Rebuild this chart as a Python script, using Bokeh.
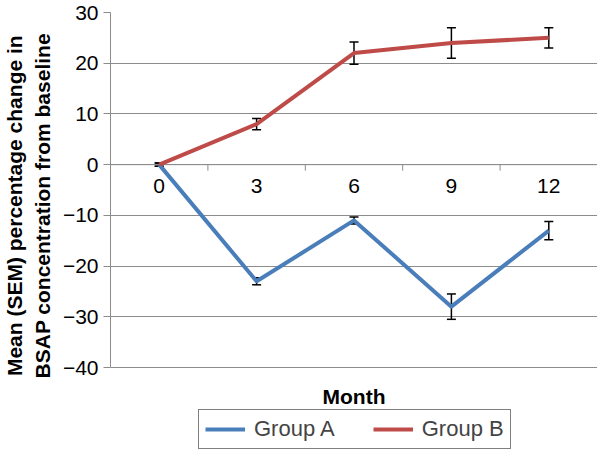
from bokeh.plotting import figure
from bokeh.models import (FixedTicker, Whisker, TeeHead, ColumnDataSource, Legend,
                          LegendItem, Label, Range1d)
from bokeh.core.properties import value
from bokeh.embed import file_html
from bokeh.resources import INLINE

months = ["0", "3", "6", "9", "12"]
group_a = [0, -23, -11, -28, -13]
group_a_sem = [0.3, 0.7, 0.7, 2.5, 1.8]
group_b = [0, 8, 22, 24, 25]
group_b_sem = [0.3, 1.1, 2.2, 3.0, 2.0]
y_ticks = [-40, -30, -20, -10, 0, 10, 20, 30]

FONT = "Liberation Sans"
BLUE = "#4A7EBB"
RED = "#BE4B48"
GRAY = "#8C8C8C"

# layout (pixels)
W, H = 597, 451
TOP = 12           # frame top
FRAME_H = H - TOP  # frame reaches the bottom; legend and "Month" live below the axis area
PLOT_H = 355       # pixel height of the y span y_ticks[0]..y_ticks[-1]
span = y_ticks[-1] - y_ticks[0]
y_min = y_ticks[0] - (FRAME_H - PLOT_H) * span / PLOT_H
TICK_LEN = 6 * span / PLOT_H   # 6 px category tick marks, in y units
PAD = "\u00a0" * 9             # lifts the rotated y label to the centre of the y span

pos = [i + 0.5 for i in range(len(months))]
bounds = [i + 1 for i in range(len(months))]

src_a = ColumnDataSource(dict(x=pos, y=group_a,
                              lo=[v - e for v, e in zip(group_a, group_a_sem)],
                              hi=[v + e for v, e in zip(group_a, group_a_sem)]))
src_b = ColumnDataSource(dict(x=pos, y=group_b,
                              lo=[v - e for v, e in zip(group_b, group_b_sem)],
                              hi=[v + e for v, e in zip(group_b, group_b_sem)]))

p = figure(width=W, height=H, output_backend="svg", toolbar_location=None,
           x_range=Range1d(0, len(months)), y_range=Range1d(y_min, y_ticks[-1]),
           min_border_left=105, min_border_right=0, min_border_top=TOP,
           min_border_bottom=0)
p.outline_line_color = None
p.background_fill_color = "white"
p.border_fill_color = "white"

# y axis
p.yaxis.ticker = FixedTicker(ticks=y_ticks)
p.yaxis.bounds = (y_ticks[0], y_ticks[-1])
p.yaxis.major_label_overrides = {t: (str(t).replace("-", "\u2212")) for t in y_ticks}
p.yaxis.axis_line_color = GRAY
p.yaxis.major_tick_line_color = GRAY
p.yaxis.major_tick_out = 7
p.yaxis.major_tick_in = 0
p.yaxis.minor_tick_line_color = None
p.yaxis.major_label_text_font = FONT
p.yaxis.major_label_text_font_size = "21px"
p.yaxis.major_label_text_color = "black"
p.yaxis.major_label_standoff = 5
p.yaxis.axis_label = (PAD + "Mean (SEM) percentage change in\n"
                      + PAD + "BSAP concentration from baseline")
p.yaxis.axis_label_text_font = FONT
p.yaxis.axis_label_text_font_size = "21px"
p.yaxis.axis_label_text_font_style = "bold"
p.yaxis.axis_label_text_color = "black"
p.yaxis.axis_label_standoff = 6

p.xaxis.visible = False
p.xgrid.grid_line_color = None
p.ygrid.grid_line_color = GRAY
p.ygrid.grid_line_width = 1

# category axis drawn along y = 0
p.segment(x0=[0] + bounds, y0=[0] * (len(bounds) + 1),
          x1=[len(months)] + bounds, y1=[0] + [-TICK_LEN] * len(bounds),
          line_color=GRAY, line_width=1)
p.text(x=pos, y=[0] * len(pos), text=months, y_offset=14, text_align="center",
       text_baseline="top", text_font=value(FONT), text_font_size="21px",
       text_color="black")

la = p.line("x", "y", source=src_a, line_color=BLUE, line_width=4, line_join="round")
lb = p.line("x", "y", source=src_b, line_color=RED, line_width=4, line_join="round")

for src in (src_a, src_b):
    w = Whisker(base="x", lower="lo", upper="hi", source=src, line_color="black",
                line_width=1.5,
                upper_head=TeeHead(size=9, line_color="black", line_width=1.5),
                lower_head=TeeHead(size=9, line_color="black", line_width=1.5))
    p.add_layout(w)

p.add_layout(Label(x=len(months) / 2, y=55, y_units="screen", text="Month",
                   text_align="center", text_baseline="middle", text_font=FONT,
                   text_font_size="21px", text_font_style="bold", text_color="black"))

legend = Legend(items=[LegendItem(label="Group A", renderers=[la]),
                       LegendItem(label="Group B", renderers=[lb])],
                orientation="horizontal", location=(88, 2),
                border_line_color="black", border_line_width=1,
                background_fill_color="white", background_fill_alpha=1,
                label_text_font=FONT, label_text_font_size="22px",
                glyph_width=40, glyph_height=18, spacing=38, padding=6,
                label_standoff=9, margin=0)
p.add_layout(legend)

open("out.html", "w").write(file_html(p, INLINE))
